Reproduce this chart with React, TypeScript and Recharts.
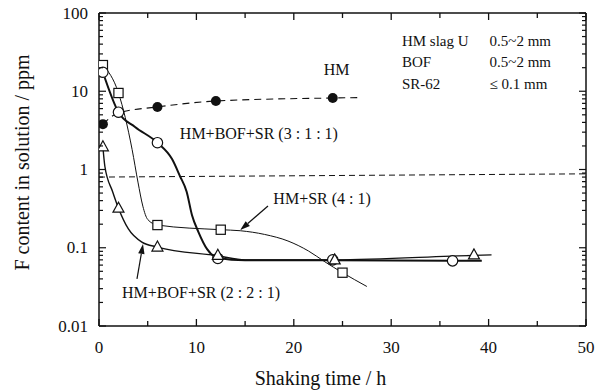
import React from 'react';
import {
  ComposedChart,
  Line,
  Scatter,
  XAxis,
  YAxis,
  ReferenceLine,
  ReferenceDot,
  Label,
} from 'recharts';

const FONT = "'Liberation Serif', 'DejaVu Serif', serif";
const INK = '#111111';

// HM slag alone (filled circles, dashed)
const hmHours = [0.4, 2, 6, 12, 24];
const hmF = [3.8, 5.3, 6.3, 7.5, 8.2];
const hmCurveHours = [0.4, 2, 6, 12, 24, 27];
const hmCurveF = [3.8, 5.3, 6.3, 7.5, 8.2, 8.3];

// HM+BOF+SR (3:1:1) (open circles, heavy line)
const mix311Hours = [0.4, 2, 6, 12.2, 24, 36.3];
const mix311F = [17.5, 5.4, 2.2, 0.073, 0.07, 0.068];
const mix311CurveHours = [0.4, 2, 3.7, 6, 7.5, 8.3, 9, 9.55, 10.2, 11.1, 12.2, 15, 24, 36.3, 39.3];
const mix311CurveF = [17.5, 5.4, 3.5, 2.2, 1.36, 0.83, 0.52, 0.26, 0.16, 0.096, 0.074, 0.069, 0.069, 0.068, 0.068];

// HM+SR (4:1) (squares, thin line)
const mix41Hours = [0.4, 2, 6, 12.5, 25];
const mix41F = [21.6, 9.5, 0.195, 0.17, 0.048];
const mix41CurveHours = [0.4, 2, 3.4, 4, 4.5, 5, 6, 12.5, 14.5, 17, 19.4, 21.5, 23.2, 25, 27.5];
const mix41CurveF = [21.6, 9.5, 1.8, 0.69, 0.34, 0.23, 0.195, 0.17, 0.165, 0.148, 0.122, 0.091, 0.066, 0.048, 0.032];

// HM+BOF+SR (2:2:1) (triangles)
const mix221Hours = [0.4, 2, 6, 12.2, 24.2, 38.5];
const mix221F = [1.95, 0.32, 0.102, 0.08, 0.07, 0.081];
const mix221CurveHours = [0.4, 0.6, 1.4, 2, 3, 4.4, 6, 12.2, 15, 24.2, 38.5, 40.3];
const mix221CurveF = [1.95, 1.1, 0.52, 0.32, 0.175, 0.118, 0.102, 0.079, 0.07, 0.07, 0.08, 0.081];

// axis ticks
const xTicks = [0, 5, 10, 15, 20, 25, 30, 35, 40, 45, 50];
const xTickLabels = ['0', '', '10', '', '20', '', '30', '', '40', '', '50'];
const yDecades = [0.01, 0.1, 1, 10, 100];
const yDecadeLabels = ['0.01', '0.1', '1', '10', '100'];
const yMinorSteps = [2, 3, 4, 5, 6, 7, 8, 9];

const yTicks = [
  ...yDecades.slice(0, -1).flatMap((d) => [d, ...yMinorSteps.map((m) => m * d)]),
  100,
];

const zip = (xs: number[], ys: number[]) => xs.map((x, i) => ({ x, y: ys[i] }));

const isDecade = (v: number) => Math.abs(Math.log10(v) - Math.round(Math.log10(v))) < 1e-6;
const decadeLabel = (v: number) => {
  const i = yDecades.findIndex((d) => Math.abs(Math.log10(d) - Math.log10(v)) < 1e-6);
  return i >= 0 ? yDecadeLabels[i] : '';
};

const Txt = ({ children, size = 16, ...rest }: any) => (
  <text
    fontFamily={FONT}
    fontSize={size}
    fill={INK}
    dominantBaseline="central"
    style={{ fontFamily: FONT }}
    {...rest}
  >
    {children}
  </text>
);

const BottomTick = ({ x, y, payload }: any) => {
  const i = xTicks.indexOf(payload.value);
  const label = i >= 0 ? xTickLabels[i] : '';
  return (
    <g>
      <line x1={x} y1={y} x2={x} y2={y - (label ? 7 : 5)} stroke={INK} strokeWidth={1.3} />
      {label && (
        <Txt x={x} y={y + 21} textAnchor="middle" size={17}>
          {label}
        </Txt>
      )}
    </g>
  );
};

const TopTick = ({ x, y, payload }: any) => {
  const major = payload.value % 10 === 0;
  return <line x1={x} y1={y} x2={x} y2={y + (major ? 7 : 5)} stroke={INK} strokeWidth={1.3} />;
};

const LeftTick = ({ x, y, payload }: any) => {
  const major = isDecade(payload.value);
  return (
    <g>
      <line x1={x} y1={y} x2={x + (major ? 7 : 4)} y2={y} stroke={INK} strokeWidth={1.2} />
      {major && (
        <Txt x={x - 11} y={y} textAnchor="end" size={17}>
          {decadeLabel(payload.value)}
        </Txt>
      )}
    </g>
  );
};

const RightTick = ({ x, y, payload }: any) => {
  const major = isDecade(payload.value);
  return <line x1={x} y1={y} x2={x - (major ? 7 : 4)} y2={y} stroke={INK} strokeWidth={1.2} />;
};

const OpenCircle = ({ cx, cy }: any) => (
  <circle cx={cx} cy={cy} r={5.2} fill="#fff" stroke={INK} strokeWidth={1.2} />
);
const FilledCircle = ({ cx, cy }: any) => <circle cx={cx} cy={cy} r={5} fill={INK} />;
const OpenSquare = ({ cx, cy }: any) => (
  <rect x={cx - 4.6} y={cy - 4.6} width={9.2} height={9.2} fill="#fff" stroke={INK} strokeWidth={1.2} />
);
const OpenTriangle = ({ cx, cy }: any) => (
  <polygon
    points={`${cx},${cy - 6} ${cx - 5.5},${cy + 4} ${cx + 5.5},${cy + 4}`}
    fill="#fff"
    stroke={INK}
    strokeWidth={1.2}
  />
);

const Arrow = ({ x1, y1, x2, y2 }: any) => {
  const ang = Math.atan2(y2 - y1, x2 - x1);
  const len = 10;
  const half = 3.2;
  const bx = x2 - len * Math.cos(ang);
  const by = y2 - len * Math.sin(ang);
  const px = -Math.sin(ang) * half;
  const py = Math.cos(ang) * half;
  return (
    <g>
      <line x1={x1} y1={y1} x2={bx} y2={by} stroke={INK} strokeWidth={1.2} />
      <polygon points={`${x2},${y2} ${bx + px},${by + py} ${bx - px},${by - py}`} fill={INK} />
    </g>
  );
};

const note = (text: string, size = 16, anchor: 'start' | 'middle' = 'start') =>
  ({ cx, cy }: any) => (
    <Txt x={cx} y={cy} textAnchor={anchor} size={size}>
      {text}
    </Txt>
  );

const annotations = [
  { x: 24.4, y: 19.2, text: 'HM', anchor: 'middle' as const },
  { x: 8.3, y: 2.85, text: 'HM+BOF+SR (3 : 1 : 1)', anchor: 'start' as const },
  { x: 17.9, y: 0.42, text: 'HM+SR (4 : 1)', anchor: 'start' as const },
  { x: 2.36, y: 0.027, text: 'HM+BOF+SR (2 : 2 : 1)', anchor: 'start' as const },
];

const sizeNotes = [
  { x: 31.1, y: 43.9, name: 'HM slag U', size: '0.5~2 mm' },
  { x: 31.1, y: 23.7, name: 'BOF', size: '0.5~2 mm' },
  { x: 31.1, y: 12.4, name: 'SR-62', size: '≤ 0.1 mm' },
];
const sizeColumnX = 40.1;

export default function App() {
  return (
    <div style={{ position: 'absolute', left: 0, top: 0, background: '#fff' }}>
      <ComposedChart width={600} height={391} margin={{ top: 11, right: 12, bottom: 25, left: 39 }}>
        <XAxis
          xAxisId="b"
          dataKey="x"
          type="number"
          domain={[0, 50]}
          ticks={xTicks}
          interval={0}
          height={40}
          tickSize={0}
          tickMargin={0}
          tickLine={false}
          tick={BottomTick}
          axisLine={{ stroke: INK, strokeWidth: 1.5 }}
          allowDataOverflow
        >
          <Label
            content={({ viewBox }: any) => (
              <Txt x={viewBox.x + viewBox.width / 2 - 22} y={viewBox.y + 52} textAnchor="middle" size={20}>
                Shaking time / h
              </Txt>
            )}
          />
        </XAxis>
        <XAxis
          xAxisId="t"
          dataKey="x"
          type="number"
          orientation="top"
          domain={[0, 50]}
          ticks={xTicks}
          interval={0}
          height={2}
          tickSize={0}
          tickMargin={0}
          tickLine={false}
          tick={TopTick}
          axisLine={{ stroke: INK, strokeWidth: 1.5 }}
          allowDataOverflow
        />
        <YAxis
          yAxisId="l"
          dataKey="y"
          type="number"
          scale="log"
          domain={[0.01, 100]}
          ticks={yTicks}
          interval={0}
          width={60}
          tickSize={0}
          tickMargin={0}
          tickLine={false}
          tick={LeftTick}
          axisLine={{ stroke: INK, strokeWidth: 1.5 }}
          allowDataOverflow
        >
          <Label
            content={({ viewBox }: any) => {
              const cx = viewBox.x - 17;
              const cy = viewBox.y + viewBox.height / 2 - 7;
              return (
                <Txt x={cx} y={cy} transform={`rotate(-90 ${cx} ${cy})`} textAnchor="middle" size={20}>
                  F content in solution / ppm
                </Txt>
              );
            }}
          />
        </YAxis>
        <YAxis
          yAxisId="r"
          dataKey="y"
          type="number"
          orientation="right"
          scale="log"
          domain={[0.01, 100]}
          ticks={yTicks}
          interval={0}
          width={2}
          tickSize={0}
          tickMargin={0}
          tickLine={false}
          tick={RightTick}
          axisLine={{ stroke: INK, strokeWidth: 1.5 }}
          allowDataOverflow
        />

        <ReferenceLine
          xAxisId="b"
          yAxisId="l"
          segment={[{ x: 0, y: 0.8 }, { x: 50, y: 0.88 }]}
          stroke={INK}
          strokeWidth={1}
          strokeDasharray="6 4"
        />

        <Line
          xAxisId="b"
          yAxisId="l"
          data={zip(hmCurveHours, hmCurveF)}
          dataKey="y"
          type="monotone"
          stroke={INK}
          strokeWidth={1.1}
          strokeDasharray="7 5"
          dot={false}
          activeDot={false}
          isAnimationActive={false}
        />
        <Line
          xAxisId="b"
          yAxisId="l"
          data={zip(mix41CurveHours, mix41CurveF)}
          dataKey="y"
          type="monotone"
          stroke={INK}
          strokeWidth={1}
          dot={false}
          activeDot={false}
          isAnimationActive={false}
        />
        <Line
          xAxisId="b"
          yAxisId="l"
          data={zip(mix221CurveHours, mix221CurveF)}
          dataKey="y"
          type="monotone"
          stroke={INK}
          strokeWidth={1.4}
          dot={false}
          activeDot={false}
          isAnimationActive={false}
        />
        <Line
          xAxisId="b"
          yAxisId="l"
          data={zip(mix311CurveHours, mix311CurveF)}
          dataKey="y"
          type="monotone"
          stroke={INK}
          strokeWidth={2}
          dot={false}
          activeDot={false}
          isAnimationActive={false}
        />

        <Scatter xAxisId="b" yAxisId="l" data={zip(hmHours, hmF)} shape={FilledCircle} isAnimationActive={false} />
        <Scatter xAxisId="b" yAxisId="l" data={zip(mix41Hours, mix41F)} shape={OpenSquare} isAnimationActive={false} />
        <Scatter xAxisId="b" yAxisId="l" data={zip(mix311Hours, mix311F)} shape={OpenCircle} isAnimationActive={false} />
        <Scatter xAxisId="b" yAxisId="l" data={zip(mix221Hours, mix221F)} shape={OpenTriangle} isAnimationActive={false} />

        <ReferenceLine
          xAxisId="b"
          yAxisId="l"
          segment={[{ x: 17.35, y: 0.342 }, { x: 14.5, y: 0.168 }]}
          shape={Arrow}
        />
        <ReferenceLine
          xAxisId="b"
          yAxisId="l"
          segment={[{ x: 3.9, y: 0.04 }, { x: 4.52, y: 0.112 }]}
          shape={Arrow}
        />

        {annotations.map((a) => (
          <ReferenceDot
            key={a.text}
            xAxisId="b"
            yAxisId="l"
            x={a.x}
            y={a.y}
            r={0}
            shape={note(a.text, 16, a.anchor)}
          />
        ))}
        {sizeNotes.map((n) => (
          <ReferenceDot
            key={n.name}
            xAxisId="b"
            yAxisId="l"
            x={n.x}
            y={n.y}
            r={0}
            shape={note(n.name, 15)}
          />
        ))}
        {sizeNotes.map((n) => (
          <ReferenceDot
            key={n.name + '-size'}
            xAxisId="b"
            yAxisId="l"
            x={sizeColumnX}
            y={n.y}
            r={0}
            shape={note(n.size, 15)}
          />
        ))}
      </ComposedChart>
    </div>
  );
}
